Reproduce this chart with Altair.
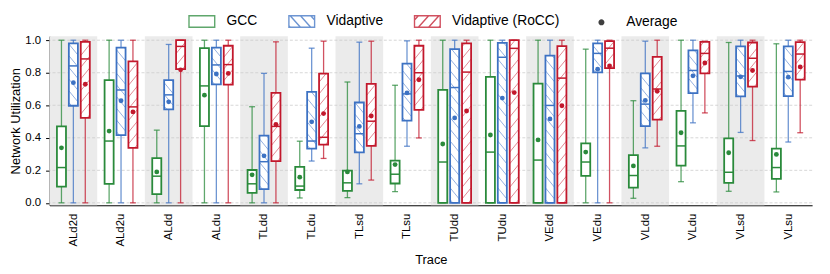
import altair as alt
import pandas as pd
import numpy as np

traces = ["ALd2d", "ALd2u", "ALdd", "ALdu", "TLdd", "TLdu", "TLsd", "TLsu",
          "TUdd", "TUdu", "VEdd", "VEdu", "VLdd", "VLdu", "VLsd", "VLsu"]
series_names = ["GCC", "Vidaptive", "Vidaptive (RoCC)"]

# GCC
gcc_lo   = [0.0, 0.0, 0.0, 0.0, 0.0, 0.03, 0.032, 0.069, 0.0, 0.0, 0.0, 0.0, 0.028, 0.13, 0.071, 0.067]
gcc_q1   = [0.10, 0.117, 0.053, 0.472, 0.061, 0.079, 0.073, 0.119, 0.0, 0.0, 0.0, 0.166, 0.093, 0.229, 0.123, 0.148]
gcc_med  = [0.217, 0.38, 0.164, 0.719, 0.117, 0.103, 0.123, 0.176, 0.251, 0.312, 0.263, 0.251, 0.168, 0.35, 0.188, 0.217]
gcc_q3   = [0.47, 0.755, 0.275, 0.951, 0.202, 0.221, 0.198, 0.259, 0.694, 0.775, 0.733, 0.366, 0.294, 0.565, 0.397, 0.334]
gcc_hi   = [1.0, 1.0, 0.447, 1.0, 0.591, 0.379, 0.743, 0.723, 1.0, 1.0, 1.0, 0.945, 0.628, 1.0, 0.986, 0.978]
gcc_mean = [0.338, 0.441, 0.19, 0.662, 0.172, 0.158, 0.19, 0.235, 0.362, 0.417, 0.387, 0.312, 0.227, 0.431, 0.308, 0.298]

# Vidaptive
vid_lo   = [0.0, 0.0, 0.0, 0.0, 0.0, 0.257, 0.117, 0.348, 0.0, 0.0, 0.0, 0.0, 0.338, 0.492, 0.433, 0.374]
vid_q1   = [0.597, 0.417, 0.575, 0.729, 0.085, 0.334, 0.31, 0.506, 0.0, 0.0, 0.0, 0.802, 0.472, 0.674, 0.654, 0.656]
vid_med  = [0.842, 0.694, 0.664, 0.848, 0.253, 0.38, 0.425, 0.67, 0.709, 0.895, 0.599, 0.919, 0.607, 0.814, 0.78, 0.808]
vid_q3   = [0.98, 0.955, 0.755, 0.955, 0.413, 0.682, 0.617, 0.856, 0.945, 0.984, 0.905, 0.98, 0.796, 0.937, 0.962, 0.962]
vid_hi   = [1.0, 1.0, 0.974, 1.0, 0.796, 0.951, 0.988, 0.996, 1.0, 1.0, 1.0, 1.0, 0.994, 1.0, 1.0, 1.0]
vid_mean = [0.739, 0.628, 0.621, 0.792, 0.289, 0.498, 0.47, 0.676, 0.522, 0.644, 0.516, 0.822, 0.63, 0.781, 0.775, 0.773]

# Vidaptive (RoCC)
roc_lo   = [0.0, 0.0, 0.0, 0.0, 0.0, 0.273, 0.14, 0.399, 0.0, 0.0, 0.0, 0.0, 0.348, 0.553, 0.383, 0.431]
roc_q1   = [0.522, 0.338, 0.822, 0.727, 0.257, 0.358, 0.35, 0.571, 0.0, 0.0, 0.0, 0.828, 0.512, 0.796, 0.715, 0.757]
roc_med  = [0.885, 0.59, 0.962, 0.85, 0.47, 0.403, 0.502, 0.8, 0.804, 0.95, 0.767, 0.951, 0.70, 0.919, 0.889, 0.915]
roc_q3   = [0.99, 0.87, 1.0, 0.966, 0.676, 0.794, 0.731, 0.966, 0.98, 1.0, 0.964, 0.994, 0.897, 0.99, 0.986, 0.988]
roc_hi   = [1.0, 1.0, 1.0, 1.0, 0.99, 0.994, 0.994, 1.0, 1.0, 1.0, 1.0, 1.0, 1.0, 0.994, 1.0, 1.0]
roc_mean = [0.729, 0.559, 0.818, 0.796, 0.482, 0.549, 0.534, 0.757, 0.565, 0.678, 0.597, 0.842, 0.686, 0.86, 0.814, 0.836]

y_ticks = [0.0, 0.2, 0.4, 0.6, 0.8, 1.0]

# ---- styling / geometry ----
GREEN, BLUE, RED = "#2a8a3b", "#3d72c3", "#c2182c"
HATCH_BLUE, HATCH_RED = "#86a6dc", "#dd7a86"
style = {
    "GCC": (GREEN, None, None, -0.25),
    "Vidaptive": (BLUE, HATCH_BLUE, "back", 0.0),
    "Vidaptive (RoCC)": (RED, HATCH_RED, "fwd", 0.25),
}
stats = {
    "GCC": (gcc_lo, gcc_q1, gcc_med, gcc_q3, gcc_hi, gcc_mean),
    "Vidaptive": (vid_lo, vid_q1, vid_med, vid_q3, vid_hi, vid_mean),
    "Vidaptive (RoCC)": (roc_lo, roc_q1, roc_med, roc_q3, roc_hi, roc_mean),
}
BOX_HW = 0.095
CAP_HW = 0.062
HATCH_DY = 0.068
HATCH_SP = 0.072

rows = []
hatch_rows = []
for s in series_names:
    col, colh, hdir, off = style[s]
    lo, q1, med, q3, hi, mean = stats[s]
    for i, t in enumerate(traces):
        xc = i + off
        rows.append(dict(trace=t, series=s, xc=xc, xl=xc - BOX_HW, xr=xc + BOX_HW,
                         cl=xc - CAP_HW, cr=xc + CAP_HW, lo=lo[i], q1=q1[i], med=med[i],
                         q3=q3[i], hi=hi[i], mean=mean[i], col=col))
        if hdir is None:
            continue
        x0, x1 = xc - BOX_HW, xc + BOX_HW
        slope = HATCH_DY / (x1 - x0)
        for c in np.arange(q1[i] - HATCH_DY + 0.02, q3[i], HATCH_SP):
            xa = max(x0, x0 + (q1[i] - c) / slope)
            xb = min(x1, x0 + (q3[i] - c) / slope)
            if xb - xa <= 1e-6:
                continue
            ya = c + slope * (xa - x0)
            yb = c + slope * (xb - x0)
            if hdir == "back":
                xa, xb = 2 * xc - xa, 2 * xc - xb
            hatch_rows.append(dict(hx=xa, hx2=xb, hy=ya, hy2=yb, colh=colh))

df = pd.DataFrame(rows)
hdf = pd.DataFrame(hatch_rows)
bands = pd.DataFrame({"b0": [i - 0.5 for i in range(0, 16, 2)], "b1": [i + 0.5 for i in range(0, 16, 2)]})
grid = pd.DataFrame({"v": y_ticks})

label_expr = "[" + ",".join("'%s'" % t for t in traces) + "][round(datum.value)]"
XS = alt.Scale(domain=[-0.5, 15.5], nice=False, zero=False)
YS = alt.Scale(domain=[-0.015, 1.025], nice=False, zero=False)
X_AX = alt.Axis(title="Trace", values=list(range(16)), labelExpr=label_expr, labelAngle=270,
                ticks=False, grid=False, labelPadding=8, labelFontSize=11.5, titleFontSize=13,
                titleFontWeight="normal", domainColor="black", labelColor="black",
                titleColor="black", titlePadding=8)
Y_AX = alt.Axis(title="Network Utilization", values=y_ticks, format=".1f", grid=False,
                tickSize=4, tickColor="black", domainColor="black", labelFontSize=11.5,
                titleFontSize=13, titleFontWeight="normal", labelColor="black",
                titleColor="black", labelPadding=5, titlePadding=2)


def X(f):
    return alt.X(f, scale=XS, axis=X_AX)


def Y(f):
    return alt.Y(f, scale=YS, axis=Y_AX)


band_layer = alt.Chart(bands).mark_rect(color="#ebebeb").encode(x=X("b0:Q"), x2="b1:Q")
grid_layer = alt.Chart(grid).mark_rule(color="#cccccc", strokeDash=[3, 2], strokeWidth=0.8).encode(y=Y("v:Q"))

base = alt.Chart(df)
stroke = alt.Stroke("col:N", scale=None)
whisk = base.mark_rule(strokeWidth=1.3, opacity=0.75).encode(x=X("xc:Q"), y=Y("lo:Q"), y2="hi:Q", stroke=stroke)
cap_lo = base.mark_rule(strokeWidth=1.3, opacity=0.75).encode(x=X("cl:Q"), x2="cr:Q", y=Y("lo:Q"), stroke=stroke)
cap_hi = base.mark_rule(strokeWidth=1.3, opacity=0.75).encode(x=X("cl:Q"), x2="cr:Q", y=Y("hi:Q"), stroke=stroke)
box_fill = base.mark_rect(fill="white").encode(x=X("xl:Q"), x2="xr:Q", y=Y("q1:Q"), y2="q3:Q")
hatch = alt.Chart(hdf).mark_rule(strokeWidth=0.9).encode(
    x=X("hx:Q"), x2="hx2:Q", y=Y("hy:Q"), y2="hy2:Q", stroke=alt.Stroke("colh:N", scale=None))
box_line = base.mark_rect(fillOpacity=0, strokeWidth=1.8).encode(
    x=X("xl:Q"), x2="xr:Q", y=Y("q1:Q"), y2="q3:Q", stroke=stroke)
median = base.mark_rule(strokeWidth=1.5).encode(x=X("xl:Q"), x2="xr:Q", y=Y("med:Q"), stroke=stroke)
mean_pt = base.mark_point(filled=True, size=24, opacity=1).encode(
    x=X("xc:Q"), y=Y("mean:Q"), color=alt.Color("col:N", scale=None))

# legend
leg_domain = series_names + ["Average"]
rect_path = "M-1,-0.45L1,-0.45L1,0.45L-1,0.45Z"
back_path = rect_path + "M-0.9,-0.45L-0.1,0.45M-0.1,-0.45L0.7,0.45M0.7,-0.45L1,-0.1125M-1,0.3375L-0.9,0.45"
fwd_path = rect_path + "M0.9,-0.45L0.1,0.45M0.1,-0.45L-0.7,0.45M-0.7,-0.45L-1,-0.1125M1,0.3375L0.9,0.45"
dot_path = "M-0.18,0A0.18,0.18,0,1,0,0.18,0A0.18,0.18,0,1,0,-0.18,0Z"
LEG = alt.Legend(title=None, orient="none", legendX=140, legendY=-29, direction="horizontal",
                 labelFontSize=14, labelColor="black", symbolSize=676, columnPadding=28,
                 labelOffset=11, symbolStrokeWidth=1.4)
leg_df = pd.DataFrame({"series": leg_domain})
legend_layer = alt.Chart(leg_df).mark_point(filled=True, opacity=1, strokeWidth=1.4).encode(
    stroke=alt.Stroke("series:N", scale=alt.Scale(domain=leg_domain, range=[GREEN, BLUE, RED, "black"]), legend=LEG),
    fill=alt.Fill("series:N", scale=alt.Scale(domain=leg_domain, range=["white", "white", "white", "black"]), legend=LEG),
    shape=alt.Shape("series:N", scale=alt.Scale(domain=leg_domain, range=[rect_path, back_path, fwd_path, dot_path]), legend=LEG),
).transform_filter("datum.series == '__none__'")

chart = alt.layer(
    band_layer, grid_layer, whisk, cap_lo, cap_hi, box_fill, hatch, box_line, median, mean_pt, legend_layer
).properties(
    width=771, height=171,
    autosize=alt.AutoSizeParams(type="none"),
    padding={"left": 42, "top": 27, "right": 10, "bottom": 66},
).configure(font="Liberation Sans").configure_view(strokeWidth=0)

chart.save("out.html", embed_options={"renderer": "svg", "actions": False})
